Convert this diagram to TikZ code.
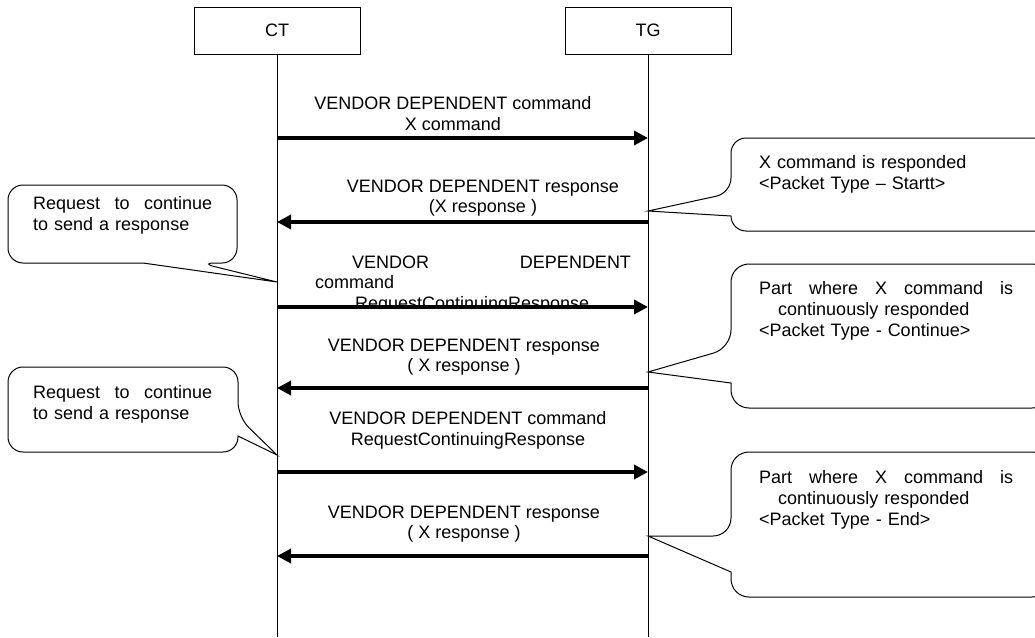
\documentclass[tikz,border=0pt]{standalone}
\usepackage{fontspec}
\setmainfont{Liberation Sans}
\usetikzlibrary{arrows.meta}

\tikzset{
  party/.style={draw,line width=1pt,minimum width=166pt,minimum height=47pt,inner sep=0pt},
  lifeline/.style={line width=1pt},
  msg/.style={line width=4.5pt,-{Triangle[length=14pt,width=14pt]}},
  msgtext/.style={anchor=north,inner sep=0pt,align=center},
  calltext/.style={anchor=north west,inner sep=0pt,align=left,font=\fontsize{18}{21}\selectfont},
  callout/.style={draw,line width=1pt,fill=white},
}

\begin{document}
\begin{tikzpicture}[x=1pt,y=-1pt,font=\fontsize{18}{20.5}\selectfont]
\path[use as bounding box,clip] (0,0) rectangle (1035,637);

% CT and TG
\node[party] (ct) at (277,30.5) {CT};
\node[party] (tg) at (648,30.5) {TG};
\coordinate (ctend) at (277,637);
\coordinate (tgend) at (648,637);
\draw[lifeline] (ct.south) -- (ctend);
\draw[lifeline] (tg.south) -- (tgend);

% callouts
\draw[callout] (143,263) [rounded corners=15pt] -- (8,263) -- (8,185) -- (237,185) -- (237,263) -- (200,263) [sharp corners] -- (277,282) -- cycle;
\draw[callout] (238,436) [rounded corners=15pt] -- (238,452) -- (8,452) -- (8,367) -- (238,367) -- (238,417) [sharp corners] -- (277,455) -- cycle;
\draw[callout] (731,216) [rounded corners=15pt] -- (731,231) -- (1050,231) -- (1050,138) -- (731,138) -- (731,193) [sharp corners] -- (648,211) -- cycle;
\draw[callout] (731,383) [rounded corners=18pt] -- (731,408) -- (1050,408) -- (1050,264) -- (731,264) -- (731,348) [sharp corners] -- (648,372) -- cycle;
\draw[callout] (731,572) [rounded corners=18pt] -- (731,597) -- (1050,597) -- (1050,452) -- (731,452) -- (731,536) [sharp corners] -- (648,536) -- cycle;

\node[calltext,text width=179pt] (req1) at (33,196.5) {Request\hfill to\hfill continue\\to send a response};
\node[calltext,text width=179pt] (req2) at (33,385.5) {Request\hfill to\hfill continue\\to send a response};
\node[calltext,text width=255pt] (start) at (759,155.5) {X command is responded\\<Packet Type – Startt>};
\node[calltext,text width=254pt] (cont) at (759,281.5) {Part\hfill where\hfill X\hfill command\hfill is\\\hspace*{19pt}continuously responded\\<Packet Type - Continue>};
\node[calltext,text width=254pt] (end) at (759,470.5) {Part\hfill where\hfill X\hfill command\hfill is\\\hspace*{19pt}continuously responded\\<Packet Type - End>};

% message labels
\node[msgtext] (m1) at (453,96.5) {VENDOR DEPENDENT command\\X command};
\node[msgtext] (m2) at (483,179.5) {VENDOR DEPENDENT response\\(X response )};
\begin{scope}
\clip (0,0) rectangle (1035,305);
\node[msgtext,text width=316pt,align=left] (m3) at (473,255.5) {\hspace*{37pt}VENDOR\hfill DEPENDENT\\command\\\hspace*{40pt}RequestContinuingResponse};
\end{scope}
\node[msgtext] (m4) at (464,338.5) {VENDOR DEPENDENT response\\( X response )};
\node[msgtext] (m5) at (468,411.5) {VENDOR DEPENDENT command\\RequestContinuingResponse};
\node[msgtext] (m6) at (464,505.5) {VENDOR DEPENDENT response\\( X response )};

% messages
\foreach \i/\y in {1/138, 2/222, 3/307, 4/388, 5/472, 6/556} {
  \coordinate (ct\i) at (277,\y);
  \coordinate (tg\i) at (648,\y);
}
\foreach \a/\b in {ct1/tg1, tg2/ct2, ct3/tg3, tg4/ct4, ct5/tg5, tg6/ct6} {
  \draw[msg] (\a) -- (\b);
}
\end{tikzpicture}
\end{document}
